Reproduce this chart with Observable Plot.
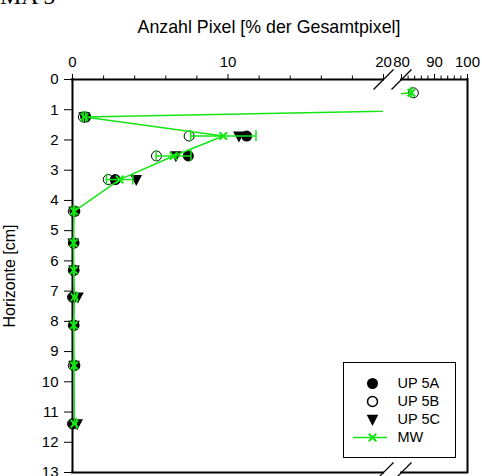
<!DOCTYPE html>
<html>
<head>
<meta charset="utf-8">
<script src="https://cdn.jsdelivr.net/npm/d3@7"></script>
<script src="https://cdn.jsdelivr.net/npm/@observablehq/plot@0.6"></script>
<style>
  html, body { margin: 0; padding: 0; background: #fff; }
  #chart { position: relative; width: 482px; height: 476px; overflow: hidden;
           font-family: "Liberation Sans", Arial, sans-serif; color: #000; }
  #chart svg { position: absolute; left: 0; top: 0; }
  .txt { position: absolute; white-space: nowrap; }
</style>
</head>
<body>
<div id="chart">
  <div class="txt" style="left:0px; top:-16px; font: 24px/24px 'Liberation Serif', 'Times New Roman', serif;">MA 5</div>
  <div class="txt" style="left:269px; top:18px; transform:translateX(-50%); font-size:17.8px; line-height:18px;">Anzahl Pixel [% der Gesamtpixel]</div>
  <div class="txt" style="left:10px; top:276px; transform:translate(-50%,-50%) rotate(-90deg); font-size:16px; line-height:16px;">Horizonte [cm]</div>
</div>
<script>
// Depth of each horizon (cm) and pixel share (% of all pixels) per sample
const depth = [0.44, 1.24, 1.87, 2.53, 3.31, 4.36, 5.41, 6.31, 7.2, 8.13, 9.46, 11.39];
const up5A  = [null, 0.85, 11.2, 7.45, 2.75, 0.15, 0.10, 0.10, 0.05, 0.10, 0.15, 0.05];
const up5B  = [83.6, 0.70, 7.5, 5.4, 2.3, 0.05, 0.05, 0.05, 0.0, 0.05, 0.05, 0.0];
const up5C  = [null, 0.75, 10.7, 6.65, 4.1, 0.10, 0.05, 0.10, 0.35, 0.10, 0.10, 0.30];
// Mean (MW) and its standard deviation
const mw    = [83.0, 0.77, 9.7, 6.5, 3.03, 0.10, 0.07, 0.08, 0.13, 0.08, 0.10, 0.12];
const mwSd  = [0.0, 0.08, 2.1, 1.12, 0.85, 0.05, 0.03, 0.03, 0.15, 0.03, 0.05, 0.13];

// Axis ticks
const yTicks = [0, 1, 2, 3, 4, 5, 6, 7, 8, 9, 10, 11, 12, 13];
const xMajorLow = [0, 10, 20];
const xMinorLow = [2, 4, 6, 8, 12, 14, 16, 18];
const xMajorHigh = [80, 90, 100];
const xMinorHigh = [82, 84, 86, 88, 92, 94, 96, 98];
const legendNames = ["UP 5A", "UP 5B", "UP 5C", "MW"];

const green = "#14e614";
const font = "'Liberation Sans', Arial, sans-serif";

const rowsOf = (values) => depth
  .map((d, i) => ({depth: d, value: values[i]}))
  .filter((r) => r.value != null);
const rowsA = rowsOf(up5A);
const rowsB = rowsOf(up5B);
const rowsC = rowsOf(up5C);
const rowsMW = depth.map((d, i) => ({depth: d, value: mw[i], lo: mw[i] - mwSd[i], hi: mw[i] + mwSd[i]}));
const caps = rowsMW.flatMap((r) => [{depth: r.depth, value: r.lo}, {depth: r.depth, value: r.hi}]);

// Custom symbols: axis-break slash and downward triangle
const slash = {draw(ctx, size) { const h = Math.sqrt(size / Math.PI); ctx.moveTo(-h, h); ctx.lineTo(h, -h); }};
const triDown = {draw(ctx, size) {
  const h = Math.sqrt(size / Math.PI);
  ctx.moveTo(-h, -0.8 * h); ctx.lineTo(h, -0.8 * h); ctx.lineTo(0, 1.1 * h); ctx.closePath();
}};

// One panel of the broken x axis (0–20 and 80–100)
function panel({domain, majors, minors, marginLeft, marginRight, breakAt, edge, showY}) {
  const inside = (r) => r.value >= domain[0] && r.value <= domain[1];
  return Plot.plot({
    width: 482, height: 476,
    marginLeft, marginRight, marginTop: 79, marginBottom: 4,
    style: {background: "none", overflow: "visible", fontFamily: font, fontSize: "15px", color: "black"},
    x: {domain, axis: "top", ticks: majors, tickSize: 6, tickPadding: 7, label: null},
    y: {domain: [0, 13], reverse: true, axis: showY ? "left" : null, ticks: yTicks, tickSize: 8, tickPadding: 6, label: null},
    marks: [
      Plot.ruleX(minors, {x: (d) => d, y1: () => 0, y2: () => 0, insetTop: -3.5, stroke: "black"}),
      Plot.ruleY([0, 13], {strokeWidth: 2, stroke: "black", strokeLinecap: "square"}),
      Plot.ruleX([edge], {strokeWidth: 2, stroke: "black", strokeLinecap: "square"}),
      Plot.dot([[breakAt, 0], [breakAt, 13]], {x: (d) => d[0], y: (d) => d[1], symbol: slash, r: 10, stroke: "black", strokeWidth: 1.2}),
      Plot.dot(rowsB.filter(inside), {x: "value", y: "depth", r: 5, fill: "white", stroke: "black", strokeWidth: 1}),
      Plot.dot(rowsA.filter(inside), {x: "value", y: "depth", r: 5.5, fill: "black"}),
      Plot.dot(rowsC.filter(inside), {x: "value", y: "depth", r: 5.8, symbol: triDown, fill: "black"}),
      Plot.line(rowsMW, {x: "value", y: "depth", stroke: green, strokeWidth: 1.5, clip: true}),
      Plot.ruleY(rowsMW, {y: "depth", x1: "lo", x2: "hi", stroke: green, strokeWidth: 1.5, clip: true}),
      Plot.ruleX(caps.filter(inside), {x: "value", y1: "depth", y2: "depth", insetTop: -5.5, insetBottom: -5.5, stroke: green, strokeWidth: 1.5}),
      Plot.dot(rowsMW.filter(inside), {x: "value", y: "depth", symbol: "times", r: 3.5, stroke: green, strokeWidth: 2})
    ]
  });
}

const chart = document.getElementById("chart");
chart.append(panel({domain: [0, 20], majors: xMajorLow, minors: xMinorLow, marginLeft: 72, marginRight: 99, breakAt: 20, edge: 0, showY: true}));
chart.append(panel({domain: [80, 100], majors: xMajorHigh, minors: xMinorHigh, marginLeft: 401, marginRight: 15, breakAt: 80, edge: 100, showY: false}));

// Legend box
const legend = Plot.plot({
  width: 112, height: 95, margin: 0,
  style: {background: "none", overflow: "visible", fontFamily: font, fontSize: "14.5px", color: "black"},
  y: {type: "point", domain: legendNames, range: [20, 76], padding: 0, axis: null},
  marks: [
    Plot.frame({fill: "white", stroke: "black"}),
    Plot.dot(["UP 5A"], {y: (d) => d, frameAnchor: "left", dx: 29, r: 5.5, fill: "black"}),
    Plot.dot(["UP 5B"], {y: (d) => d, frameAnchor: "left", dx: 29, r: 5, fill: "white", stroke: "black"}),
    Plot.dot(["UP 5C"], {y: (d) => d, frameAnchor: "left", dx: 29, r: 5.8, symbol: triDown, fill: "black"}),
    Plot.ruleY(["MW"], {y: (d) => d, insetLeft: 10, insetRight: 68, stroke: green, strokeWidth: 1.5}),
    Plot.dot(["MW"], {y: (d) => d, frameAnchor: "left", dx: 29, symbol: "times", r: 3.5, stroke: green, strokeWidth: 2}),
    Plot.text(legendNames, {y: (d) => d, text: (d) => d, frameAnchor: "left", dx: 54, textAnchor: "start"})
  ]
});
legend.style.left = "343px";
legend.style.top = "362px";
chart.append(legend);
</script>
</body>
</html>
